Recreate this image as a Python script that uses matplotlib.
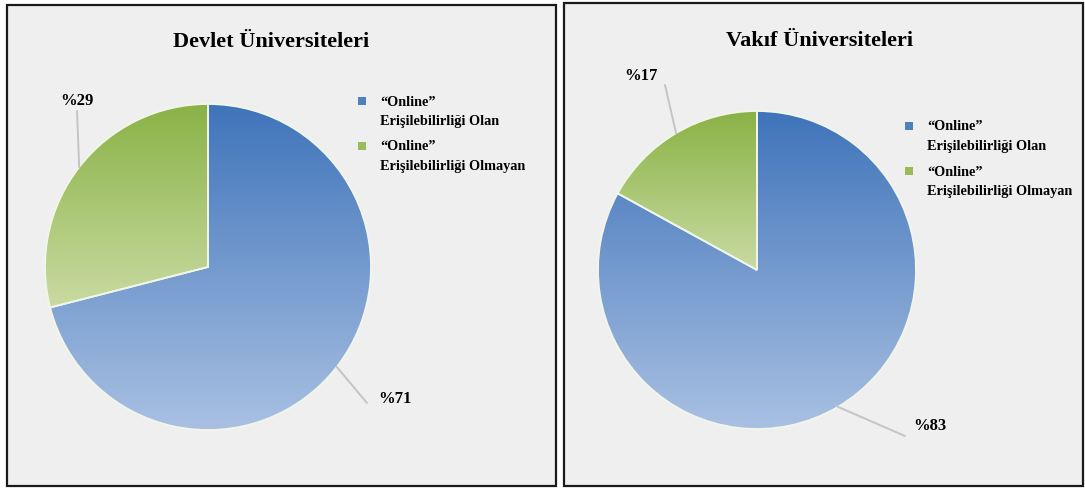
#!/usr/bin/env python3
import numpy as np
import matplotlib

matplotlib.use("Agg")
import matplotlib.pyplot as plt
from matplotlib.colors import LinearSegmentedColormap
from matplotlib.patches import Rectangle

W, H = 1085, 489

titles = ["Devlet Üniversiteleri", "Vakıf Üniversiteleri"]
categories = ["“Online”\nErişilebilirliği Olan", "“Online”\nErişilebilirliği Olmayan"]
devlet = [71, 29]
vakif = [83, 17]
pct_labels = [["%71", "%29"], ["%83", "%17"]]

BLUE = ("#3f74ba", "#a9c0e2")
GREEN = ("#8ab246", "#c9dba2")
SOLID = ["#4f81bd", "#9bbb59"]
FONT = "Liberation Serif"


def fx(x, y):
    return x / W, 1 - y / H


def gradient_fill(ax, wedge, colors):
    ext = wedge.get_path().get_extents()
    cmap = LinearSegmentedColormap.from_list("g", list(colors))
    grad = np.linspace(0, 1, 256).reshape(-1, 1)
    im = ax.imshow(grad, cmap=cmap, aspect="auto", origin="upper",
                   extent=[ext.x0, ext.x1, ext.y0, ext.y1], zorder=2)
    im.set_clip_path(wedge)


def draw_panel(fig, frame, center, radius, title, title_xy, values, labels,
               label_xy, leader_end, legend_xy):
    x0, y0, x1, y1 = frame
    fig.add_artist(Rectangle(fx(x0, y1), (x1 - x0) / W, (y1 - y0) / H,
                             transform=fig.transFigure, facecolor="#efefef",
                             edgecolor="#1a1a1a", linewidth=1.6, zorder=-5))
    cx, cy = center
    ax = fig.add_axes([(cx - radius) / W, 1 - (cy + radius) / H,
                       2 * radius / W, 2 * radius / H])
    ax.set_facecolor("none")
    wedges, _ = ax.pie(values, startangle=90, counterclock=False,
                       colors=SOLID, radius=1.0,
                       wedgeprops=dict(edgecolor="#f2f6ea", linewidth=1.3))
    for wedge, cols in zip(wedges, [BLUE, GREEN]):
        gradient_fill(ax, wedge, cols)
        wedge.set_facecolor("none")
        wedge.set_zorder(3)
    ax.set_xlim(-1, 1)
    ax.set_ylim(-1, 1)
    ax.set_axis_off()

    fig.text(*fx(*title_xy), title, ha="center", va="center",
             fontsize=16, fontweight="bold", family=FONT)

    for wedge, lab, lxy, end in zip(wedges, labels, label_xy, leader_end):
        mid = np.deg2rad((wedge.theta1 + wedge.theta2) / 2)
        edge = (np.cos(mid), np.sin(mid))
        ax.annotate("", xy=edge, xycoords="data",
                    xytext=fx(*end), textcoords="figure fraction",
                    arrowprops=dict(arrowstyle="-", color="#c4c4c4", lw=1.4,
                                    shrinkA=0, shrinkB=0),
                    annotation_clip=False)
        fig.text(*fx(*lxy), lab, ha="center", va="center", fontsize=12,
                 fontweight="bold", family=FONT)

    lx, ly = legend_xy
    for i, (cat, col) in enumerate(zip(categories, SOLID)):
        yy = ly + i * 45
        fig.add_artist(Rectangle(fx(lx, yy + 4), 8 / W, 8 / H,
                                 transform=fig.transFigure, facecolor=col,
                                 edgecolor="none"))
        for j, line in enumerate(cat.split("\n")):
            fig.text(*fx(lx + 22, yy + j * 19.5), line, ha="left", va="center",
                     fontsize=10.3, fontweight="bold", family=FONT)


def main() -> None:
    fig = plt.figure(figsize=(W / 100, H / 100), dpi=100)
    fig.patch.set_facecolor("white")

    draw_panel(fig, (7, 6, 556, 487), (208, 268), 163, titles[0], (271, 42),
               devlet, pct_labels[0],
               [(395, 399), (77, 101)], [(367, 404), (77, 112)], (358, 102))
    draw_panel(fig, (564, 4, 1083, 487), (757, 271), 159, titles[1], (820, 41),
               vakif, pct_labels[1],
               [(930, 426), (641, 76)], [(905, 437), (665, 86)], (905, 127))

    fig.savefig("out.png", dpi=100)
    plt.close(fig)


if __name__ == "__main__":
    main()
